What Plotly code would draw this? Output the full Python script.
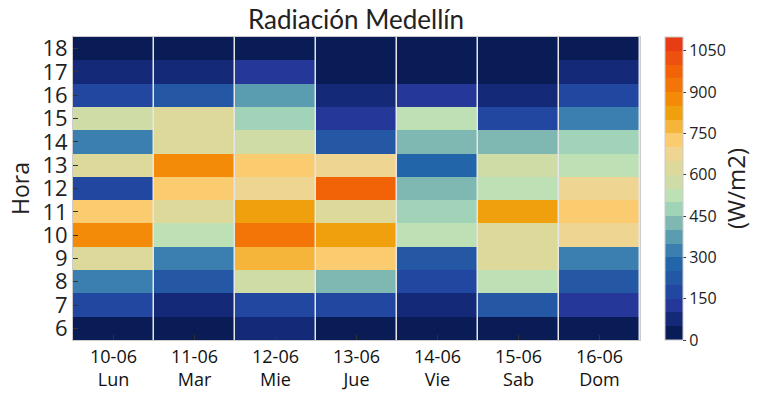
import plotly.graph_objects as go

days = ["10-06<br>Lun", "11-06<br>Mar", "12-06<br>Mie", "13-06<br>Jue", "14-06<br>Vie", "15-06<br>Sab", "16-06<br>Dom"]
hours = [6, 7, 8, 9, 10, 11, 12, 13, 14, 15, 16, 17, 18]

# Radiation (W/m2) per day, hours 6..18
lun = [20, 170, 330, 625, 870, 720, 180, 620, 320, 575, 180, 75, 20]
mar = [20, 75, 220, 320, 525, 625, 720, 870, 620, 625, 220, 75, 20]
mie = [70, 170, 575, 775, 920, 820, 670, 720, 575, 470, 370, 120, 20]
jue = [20, 170, 420, 720, 820, 625, 970, 670, 220, 120, 75, 20, 15]
vie = [20, 75, 170, 220, 525, 470, 420, 270, 420, 525, 120, 20, 15]
sab = [20, 220, 525, 625, 625, 820, 525, 575, 420, 170, 75, 20, 15]
dom = [20, 120, 220, 320, 670, 720, 670, 525, 470, 320, 170, 75, 20]

band_colors = [
    "#0a1c56", "#142a78", "#25389a", "#2247a0", "#2458a4", "#2265a9",
    "#3a7fb0", "#5b9db0", "#7fb8b2", "#a1d3b8", "#bde0b4", "#cfdca6",
    "#ddd99a", "#eed591", "#fbcb70", "#f4b53a", "#f0a00c", "#f38a08",
    "#f47507", "#f26308", "#ee5010", "#e83c14",
]
cb_ticks = [0, 150, 300, 450, 600, 750, 900, 1050]

n = len(band_colors)
colorscale = []
for i, c in enumerate(band_colors):
    colorscale.append([i / n, c])
    colorscale.append([(i + 1) / n, c])

cols = [lun, mar, mie, jue, vie, sab, dom]
z = [[cols[d][h] for d in range(len(days))] for h in range(len(hours))]

FONT = "Open Sans"
W, H = 767, 395

fig = go.Figure(go.Heatmap(
    z=z, x=days, y=hours,
    colorscale=colorscale, zmin=0, zmax=1100,
    xgap=1.5,
    colorbar=dict(
        x=665 / W, xanchor="left", xref="container",
        y=0, yanchor="bottom", yref="paper", len=1, lenmode="fraction", ypad=0, xpad=0,
        thickness=18, outlinecolor="#cccccc", outlinewidth=1,
        tickvals=cb_ticks, ticks="outside", ticklen=3, tickcolor="#333",
        tickfont=dict(family=FONT, size=16, color="#222"),
        title=dict(text="(W/m2)", side="right",
                   font=dict(family=FONT, size=24, color="#222")),
    ),
))

fig.update_layout(
    width=W, height=H,
    margin=dict(l=73, r=127, t=37, b=55),
    paper_bgcolor="white", plot_bgcolor="#e6e6e6",
    title=dict(text="Radiación Medellín", x=356 / W, xref="container", xanchor="center",
               y=1 - 20 / H, yref="container", yanchor="middle",
               font=dict(family="Lato", size=26, color="#222")),
)
fig.update_xaxes(
    automargin=False,
    ticks="inside", ticklen=5, tickcolor="#333", showgrid=False,
    tickfont=dict(family=FONT, size=18, color="#111"),
    showline=True, linecolor="#cccccc", mirror=True,
)
fig.update_yaxes(
    automargin=False,
    tickvals=hours, ticks="inside", ticklen=5, tickcolor="#333", showgrid=False,
    tickfont=dict(family=FONT, size=22, color="#222"),
    title=dict(text="Hora", font=dict(family=FONT, size=23, color="#222"), standoff=6),
    showline=True, linecolor="#cccccc", mirror=True,
)

fig.write_html("out.html", config={"displayModeBar": False},
               post_script="document.body.style.margin='0';")
